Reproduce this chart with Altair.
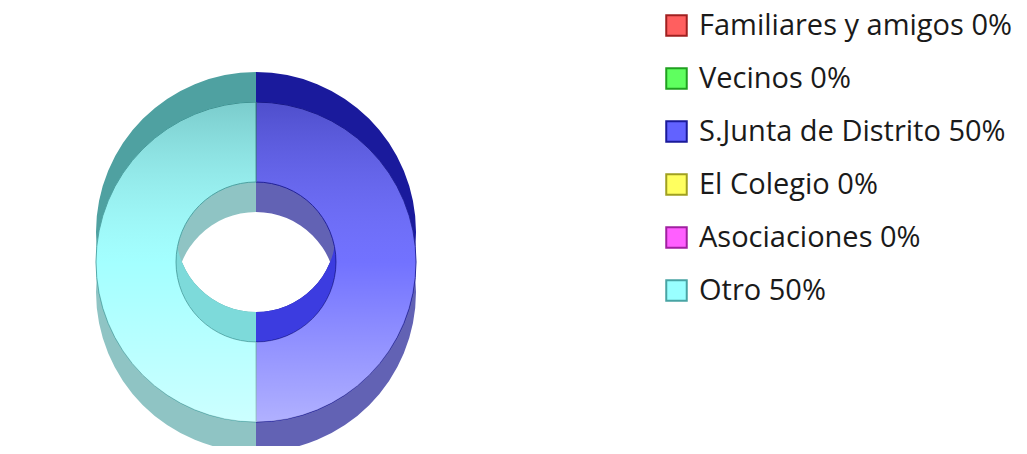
import altair as alt
import pandas as pd

categories = ["Familiares y amigos", "Vecinos", "S.Junta de Distrito",
              "El Colegio", "Asociaciones", "Otro"]
values = [0, 0, 50, 0, 0, 50]

legend_colors = ["#ff5f5f", "#5fff5f", "#6262ff", "#ffff5f", "#ff5fff", "#99ffff"]
back_wall_colors = ["#9e1c1c", "#1c9e1c", "#1a1a9c", "#9e9e1c", "#9e1c9e", "#4fa1a1"]
front_wall_colors = ["#b86262", "#62b862", "#6262b4", "#b8b862", "#b862b8", "#8fc4c4"]
inner_wall_colors = ["#e03c3c", "#3ce03c", "#3c3ce0", "#e0e03c", "#e03ce0", "#7ddada"]
edge_colors = ["#a02020", "#20a020", "#1a1a9a", "#a0a020", "#a020a0", "#48a4a4"]

total = sum(values)
labels = [f"{c} {round(v * 100 / total)}%" for c, v in zip(categories, values)]
df = pd.DataFrame({"idx": list(range(len(categories))), "label": labels, "value": values})

CX, CY = 248, 254
R, RIN, D = 160, 80, 30

base = alt.Chart(df).transform_filter("datum.value > 0")


def ring(dy, outer, inner, colors):
    return base.mark_arc(outerRadius=outer, innerRadius=inner).encode(
        theta=alt.Theta("value:Q", stack=True),
        order=alt.Order("idx:Q"),
        color=alt.Color("label:N", scale=alt.Scale(domain=labels, range=colors), legend=None),
        x=alt.value(CX),
        y=alt.value(CY + dy),
    )


back = ring(-D, R, RIN, back_wall_colors)
front = ring(D, R, RIN, front_wall_colors)
inner = ring(-D, RIN + D + 2, RIN, inner_wall_colors)

top = base.mark_arc(outerRadius=R, innerRadius=RIN, strokeWidth=1).encode(
    theta=alt.Theta("value:Q", stack=True),
    order=alt.Order("idx:Q"),
    color=alt.Color(
        "label:N",
        scale=alt.Scale(domain=labels, range=legend_colors),
        legend=alt.Legend(
            title=None, orient="none", legendX=654, legendY=3, padding=0,
            labelFontSize=29, labelFont="Open Sans", labelColor="#1a1a1a",
            labelLimit=500, labelOffset=8, rowPadding=23,
            symbolType="square", symbolSize=420, symbolStrokeColor="#222222",
            symbolStrokeWidth=2, symbolOpacity=1,
        ),
    ),
    stroke=alt.Stroke("label:N", scale=alt.Scale(domain=labels, range=edge_colors), legend=None),
    x=alt.value(CX),
    y=alt.value(CY),
)

shade = base.mark_arc(
    outerRadius=R, innerRadius=RIN,
    fill=alt.Gradient(
        gradient="linear", x1=0, y1=0, x2=0, y2=1,
        stops=[
            alt.GradientStop(offset=0, color="rgba(0,0,0,0.2)"),
            alt.GradientStop(offset=0.5, color="rgba(255,255,255,0.1)"),
            alt.GradientStop(offset=1, color="rgba(255,255,255,0.5)"),
        ],
    ),
).encode(
    theta=alt.Theta("value:Q", stack=True),
    order=alt.Order("idx:Q"),
    x=alt.value(CX),
    y=alt.value(CY),
)

chart = alt.layer(back, front, inner, top, shade).resolve_scale(
    color="independent", stroke="independent"
).properties(
    width=1011, height=438, padding=0,
    autosize=alt.AutoSizeParams(type="none"),
).configure_view(stroke=None)

chart.save("out.html", embed_options={"renderer": "svg", "actions": False})
